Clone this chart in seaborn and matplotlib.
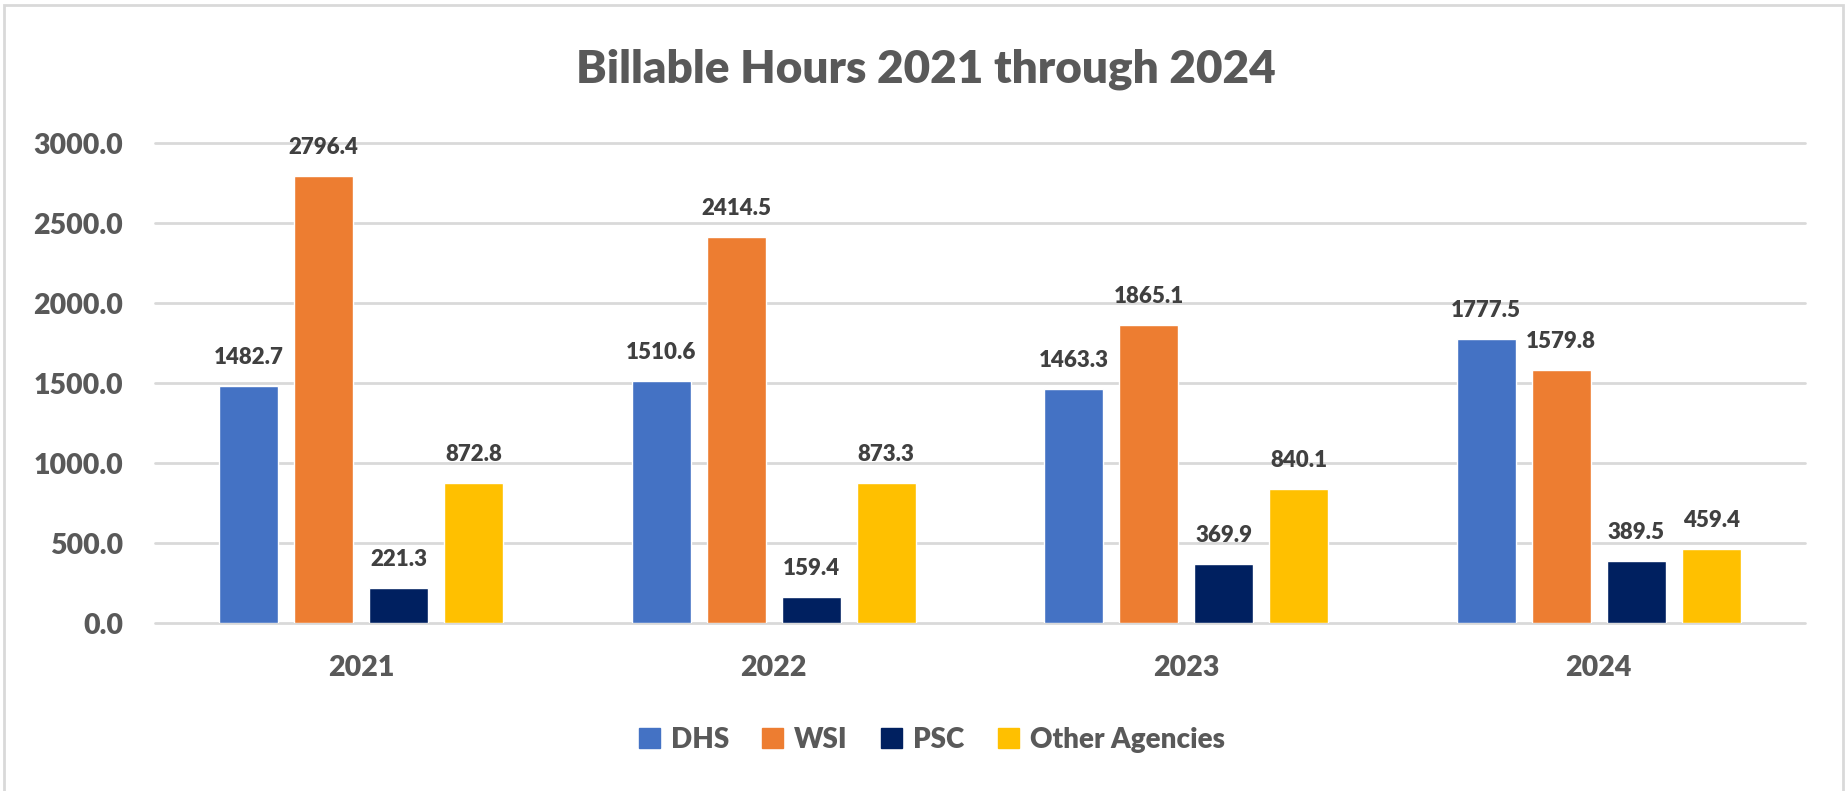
import pandas as pd
import matplotlib.pyplot as plt
import matplotlib.patches as patches
from matplotlib.ticker import MultipleLocator, FormatStrFormatter
import seaborn as sns

# data
years = ['2021', '2022', '2023', '2024']
agencies = ['DHS', 'WSI', 'PSC', 'Other Agencies']
dhs = [1482.7, 1510.6, 1463.3, 1777.5]
wsi = [2796.4, 2414.5, 1865.1, 1579.8]
psc = [221.3, 159.4, 369.9, 389.5]
other = [872.8, 873.3, 840.1, 459.4]
colors = ['#4472C4', '#ED7D31', '#002060', '#FFC000']

rows = []
for name, vals in zip(agencies, [dhs, wsi, psc, other]):
    for yr, v in zip(years, vals):
        rows.append({'year': yr, 'agency': name, 'hours': v})
df = pd.DataFrame(rows)

sns.set_style('white')
plt.rcParams['font.family'] = ['Lato', 'DejaVu Sans']
plt.rcParams['font.weight'] = 'heavy'

txt = '#595959'

fig = plt.figure(figsize=(18.45, 7.91), dpi=100)
ax = fig.add_axes([155 / 1845, 1 - 623 / 791, 1650 / 1845, 480 / 791])

sns.barplot(data=df, x='year', y='hours', hue='agency', order=years,
            hue_order=agencies, palette=colors, width=0.727, gap=0.213,
            errorbar=None, saturation=1, ax=ax)

for c in ax.containers:
    ax.bar_label(c, fmt='%.1f', padding=13, fontsize=16, fontweight='heavy',
                 color='#404040')

ax.set_ylim(0, 3000)
ax.set_xlim(-0.5, 3.5)
ax.yaxis.set_major_locator(MultipleLocator(500))
ax.yaxis.set_major_formatter(FormatStrFormatter('%.1f'))
ax.grid(axis='y', color='#d9d9d9', linewidth=2)
ax.set_axisbelow(True)
for gl in ax.get_ygridlines():
    gl.set_clip_on(False)
sns.despine(ax=ax, left=True, bottom=True)
ax.tick_params(axis='both', length=0, labelsize=20.5, labelcolor=txt)
ax.tick_params(axis='x', pad=23)
ax.tick_params(axis='y', pad=23)
ax.set_xlabel('')
ax.set_ylabel('')

ax.legend_.remove()
handles = [patches.Patch(color=c) for c in colors]
fig.legend(handles, agencies, loc='center', bbox_to_anchor=(0.505, 1 - 740 / 791),
           ncol=4, frameon=False, fontsize=20, labelcolor=txt,
           handlelength=0.75, handleheight=0.75, handletextpad=0.4,
           columnspacing=1.2)

fig.text(926 / 1845, 1 - 83 / 791, 'Billable Hours 2021 through 2024',
         ha='center', va='baseline', fontsize=33, fontweight='heavy', color=txt)

fig.patches.append(patches.Rectangle((4 / 1845, -0.01), 1839 / 1845, 1.01 - 5 / 791,
                                     transform=fig.transFigure, fill=False,
                                     edgecolor='#d9d9d9', linewidth=2))

fig.savefig('out.png', dpi=100)
